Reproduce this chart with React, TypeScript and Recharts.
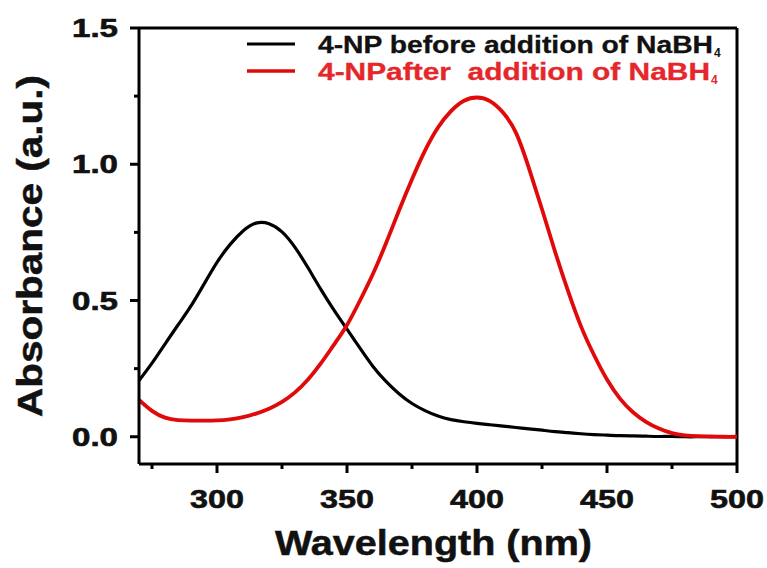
import React from 'react';
import { LineChart, Line, XAxis, YAxis, ReferenceLine, Customized } from 'recharts';

const wavelengths = [
  270, 275, 280, 285, 290, 295, 300, 305, 310, 315, 320, 325, 330, 335, 340, 345,
  350, 355, 360, 365, 370, 375, 380, 385, 390, 395, 400, 405, 410, 415, 420, 425,
  430, 435, 440, 445, 450, 455, 460, 465, 470, 475, 480, 485, 490, 495, 500,
];

const beforeNaBH4 = [
  0.206, 0.27, 0.34, 0.41, 0.48, 0.56, 0.64, 0.705, 0.755, 0.784, 0.782, 0.752, 0.695, 0.62, 0.54, 0.465,
  0.395, 0.325, 0.258, 0.203, 0.158, 0.122, 0.096, 0.076, 0.063, 0.055, 0.049, 0.044, 0.039, 0.034, 0.029, 0.024,
  0.019, 0.015, 0.011, 0.008, 0.006, 0.004, 0.003, 0.002, 0.001, 0.001, 0, 0, 0, 0, 0,
];

const afterNaBH4 = [
  0.135, 0.095, 0.07, 0.061, 0.059, 0.059, 0.06, 0.064, 0.072, 0.085, 0.103, 0.128, 0.163, 0.21, 0.27, 0.338,
  0.41, 0.50, 0.598, 0.71, 0.83, 0.945, 1.05, 1.135, 1.195, 1.233, 1.245, 1.232, 1.19, 1.115, 0.985, 0.835,
  0.68, 0.535, 0.405, 0.30, 0.21, 0.14, 0.09, 0.055, 0.03, 0.013, 0.005, 0.002, 0.001, 0, 0,
];

const xTicks = [275, 300, 325, 350, 375, 400, 425, 450, 475, 500];
const yTicks = [0, 0.25, 0.5, 0.75, 1, 1.25, 1.5];
const seriesNames = ['4-NP before addition of NaBH', '4-NPafter  addition of NaBH'];
const xTitle = 'Wavelength (nm)';
const yTitle = 'Absorbance (a.u.)';

const data = wavelengths.map((w, i) => ({ w, before: beforeNaBH4[i], after: afterNaBH4[i] }));

const FONT = '"Liberation Sans", Arial, Helvetica, sans-serif';
const RED_LINE = '#e00a0a';
const RED_TEXT = '#e5262a';
const INK = '#111';

const XTick = (props: any) => {
  const { x, y, payload } = props;
  const major = payload.value % 50 === 0;
  return (
    <g>
      <line x1={x} x2={x} y1={y} y2={y + (major ? 9 : 5)} stroke="#000" strokeWidth={3} />
      {major && (
        <text
          x={x}
          y={y + 44}
          textAnchor="middle"
          fontFamily={FONT}
          fontWeight="bold"
          fontSize={26}
          fill={INK}
          stroke={INK}
          strokeWidth={0.6}
          textLength={54}
          lengthAdjust="spacingAndGlyphs"
        >
          {payload.value}
        </text>
      )}
    </g>
  );
};

const YTick = (props: any) => {
  const { x, y, payload } = props;
  const major = Math.round(payload.value * 4) % 2 === 0;
  return (
    <g>
      <line x1={x - (major ? 9 : 5)} x2={x} y1={y} y2={y} stroke="#000" strokeWidth={3} />
      {major && (
        <text
          x={x - 21}
          y={y + 9}
          textAnchor="end"
          fontFamily={FONT}
          fontWeight="bold"
          fontSize={25}
          fill={INK}
          stroke={INK}
          strokeWidth={0.6}
          textLength={46}
          lengthAdjust="spacingAndGlyphs"
        >
          {payload.value.toFixed(1)}
        </text>
      )}
    </g>
  );
};

const Decorations = () => (
  <g>
    <text
      x={433.5}
      y={555}
      textAnchor="middle"
      fontFamily={FONT}
      fontWeight="bold"
      fontSize={35}
      fill={INK}
      stroke={INK}
      strokeWidth={0.5}
      textLength={317}
      lengthAdjust="spacingAndGlyphs"
    >
      {xTitle}
    </text>
    <text
      x={42}
      y={246}
      transform="rotate(-90, 42, 246)"
      textAnchor="middle"
      fontFamily={FONT}
      fontWeight="bold"
      fontSize={35}
      fill={INK}
      stroke={INK}
      strokeWidth={0.5}
      textLength={342}
      lengthAdjust="spacingAndGlyphs"
    >
      {yTitle}
    </text>
    <line x1={247} x2={295} y1={44} y2={44} stroke="#000" strokeWidth={3} />
    <line x1={247} x2={295} y1={71} y2={71} stroke={RED_LINE} strokeWidth={3.5} />
    <text
      x={318}
      y={53}
      fontFamily={FONT}
      fontWeight="bold"
      fontSize={23}
      fill={INK}
      stroke={INK}
      strokeWidth={0.3}
      textLength={395}
      lengthAdjust="spacingAndGlyphs"
    >
      {seriesNames[0]}
    </text>
    <text x={714} y={57} fontFamily={FONT} fontWeight="bold" fontSize={12} fill={INK}>4</text>
    <text
      x={318}
      y={80}
      fontFamily={FONT}
      fontWeight="bold"
      fontSize={23}
      fill={RED_TEXT}
      stroke={RED_TEXT}
      strokeWidth={0.3}
      style={{ whiteSpace: 'pre' }}
      textLength={392}
      lengthAdjust="spacingAndGlyphs"
    >
      {seriesNames[1]}
    </text>
    <text x={711} y={84} fontFamily={FONT} fontWeight="bold" fontSize={12} fill={RED_TEXT}>4</text>
  </g>
);

export default function App() {
  return (
    <div style={{ position: 'absolute', top: 0, left: 0, width: 767, height: 568, overflow: 'hidden' }}>
      <LineChart
        width={767}
        height={568}
        data={data}
        margin={{ top: 28, right: 30, left: 0, bottom: 0 }}
      >
        <XAxis
          dataKey="w"
          type="number"
          domain={[270, 500]}
          ticks={xTicks}
          allowDataOverflow
          height={104}
          tickSize={0}
          tickMargin={0}
          tickLine={false}
          tick={<XTick />}
          axisLine={{ stroke: '#000', strokeWidth: 3 }}
          interval={0}
        />
        <YAxis
          type="number"
          domain={[-0.1, 1.5]}
          ticks={yTicks}
          allowDataOverflow
          width={139}
          tickSize={0}
          tickMargin={0}
          tickLine={false}
          tick={<YTick />}
          axisLine={{ stroke: '#000', strokeWidth: 3 }}
          interval={0}
        />
        <ReferenceLine y={1.5} stroke="#000" strokeWidth={3} />
        <ReferenceLine x={500} stroke="#000" strokeWidth={3} />
        <Line
          type="natural"
          dataKey="before"
          stroke="#000"
          strokeWidth={3.2}
          dot={false}
          isAnimationActive={false}
        />
        <Line
          type="natural"
          dataKey="after"
          stroke={RED_LINE}
          strokeWidth={3.8}
          dot={false}
          isAnimationActive={false}
        />
        <Customized component={Decorations} />
      </LineChart>
    </div>
  );
}
